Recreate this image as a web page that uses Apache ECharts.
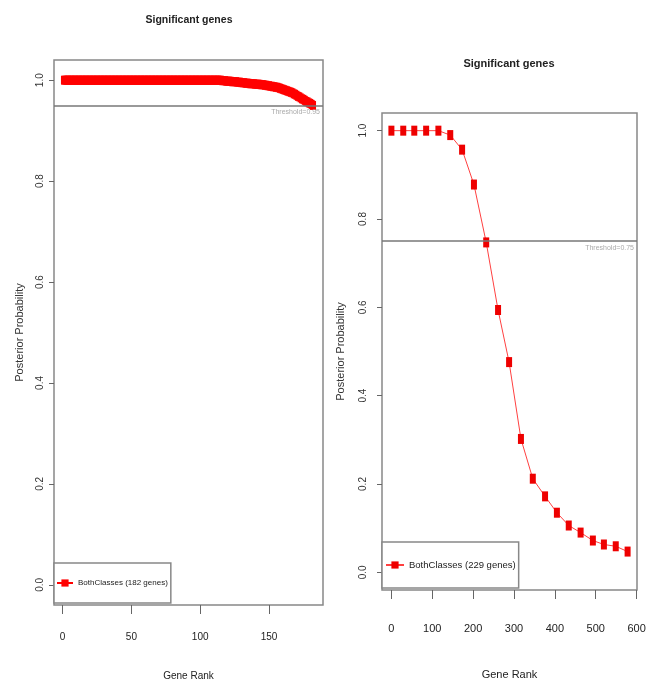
<!DOCTYPE html>
<html>
<head>
<meta charset="utf-8">
<script src="https://cdn.jsdelivr.net/npm/echarts@6/dist/echarts.min.js"></script>
<style>
html, body { margin: 0; padding: 0; background: #fff; }
#chart { width: 650px; height: 688px; }
</style>
</head>
<body>
<div id="chart"></div>
<script>
// left panel: 182 genes, posterior probability by rank
var leftProb = [
    1, 1, 1, 1, 1, 1, 1, 1, 1, 1, 1, 1, 1, 1, 1, 1, 1, 1, 1, 1,
    1, 1, 1, 1, 1, 1, 1, 1, 1, 1, 1, 1, 1, 1, 1, 1, 1, 1, 1, 1,
    1, 1, 1, 1, 1, 1, 1, 1, 1, 1, 1, 1, 1, 1, 1, 1, 1, 1, 1, 1,
    1, 1, 1, 1, 1, 1, 1, 1, 1, 1, 1, 1, 1, 1, 1, 1, 1, 1, 1, 1,
    1, 1, 1, 1, 1, 1, 1, 1, 1, 1, 1, 1, 1, 1, 1, 1, 1, 1, 1, 1,
    1, 1, 1, 1, 1, 1, 1, 1, 1, 1, 1, 1, 1, 1, 1,
    0.999, 0.999, 0.999, 0.998, 0.998, 0.998, 0.998, 0.997, 0.997, 0.997,
    0.997, 0.996, 0.996, 0.996, 0.995, 0.995, 0.995, 0.994, 0.994, 0.994,
    0.993, 0.993, 0.993, 0.993, 0.992, 0.992, 0.992, 0.992, 0.991, 0.991,
    0.991, 0.990, 0.990, 0.989, 0.989, 0.988, 0.988, 0.987, 0.987, 0.986,
    0.986, 0.985, 0.984, 0.983, 0.982, 0.981, 0.980, 0.979, 0.978, 0.977,
    0.976, 0.975, 0.973, 0.972, 0.970, 0.968, 0.967, 0.965, 0.963, 0.962,
    0.960, 0.958, 0.957, 0.955, 0.954, 0.952, 0.950
];
// right panel: sampled points
var rightRank = [0, 29, 56, 85, 115, 144, 173, 202, 232, 261, 288, 317, 346, 376, 405, 434, 463, 493, 520, 549, 578];
var rightProb = [1.0, 1.0, 1.0, 1.0, 1.0, 0.99, 0.957, 0.878, 0.747, 0.594, 0.476, 0.302, 0.212, 0.172, 0.135, 0.106, 0.09, 0.072, 0.063, 0.059, 0.047];

var leftTicks = [0, 50, 100, 150];
var rightTicks = [0, 100, 200, 300, 400, 500, 600];
var yTicks = [0, 0.2, 0.4, 0.6, 0.8, 1.0];
var leftThreshold = 0.95;
var rightThreshold = 0.75;
var leftName = 'BothClasses (182 genes)';
var rightName = 'BothClasses (229 genes)';

var font = "'Liberation Sans', Arial, sans-serif";

var leftData = leftProb.map(function (v, i) { return [i + 1, v]; });
var rightData = rightRank.map(function (r, i) { return [r, rightProb[i]]; });

function xAxisOf(gi, min, max, ticks, margin, nameGap, fs) {
    return {
        gridIndex: gi, type: 'value', min: min, max: max,
        name: 'Gene Rank', nameLocation: 'middle', nameGap: nameGap,
        nameTextStyle: {fontFamily: font, fontSize: fs, color: '#222'},
        axisLine: {show: false, onZero: false},
        axisTick: {show: true, length: 9, customValues: ticks, lineStyle: {color: '#666', width: 1}},
        axisLabel: {customValues: ticks, margin: margin, fontFamily: font, fontSize: fs, color: '#222'},
        splitLine: {show: false}
    };
}

function yAxisOf(gi, margin, nameGap) {
    return {
        gridIndex: gi, type: 'value', min: -0.04, max: 1.04,
        name: 'Posterior Probability', nameLocation: 'middle', nameGap: nameGap,
        nameTextStyle: {fontFamily: font, fontSize: 11, color: '#333'},
        axisLine: {show: false, onZero: false},
        axisTick: {show: true, length: 5, customValues: yTicks, lineStyle: {color: '#666', width: 1}},
        axisLabel: {
            customValues: yTicks, rotate: 90, margin: margin,
            fontFamily: font, fontSize: 10, color: '#333',
            formatter: function (v) { return v.toFixed(1); }
        },
        splitLine: {show: false}
    };
}

function threshold(val) {
    return {
        silent: true, symbol: 'none', animation: false,
        lineStyle: {color: '#777', width: 1.5, type: 'solid'},
        label: {
            position: 'insideEndBottom', distance: 3,
            formatter: 'Threshold=' + val,
            color: '#aaa', fontSize: 7, fontFamily: font
        },
        data: [{yAxis: val}]
    };
}

function legendOf(name, left, top, padding, iw, fs) {
    return {
        data: [name], left: left, top: top, padding: padding,
        itemWidth: iw, itemHeight: 9, itemGap: 0,
        backgroundColor: '#fff', borderColor: '#888', borderWidth: 1.5, borderRadius: 0,
        selectedMode: false,
        textStyle: {fontFamily: font, fontSize: fs, color: '#222'}
    };
}

var option = {
    animation: false,
    title: [
        {text: 'Significant genes', left: 189, top: 15, textAlign: 'center', padding: 0,
         textStyle: {fontFamily: font, fontSize: 10.5, fontWeight: 'bold', color: '#222'}},
        {text: 'Significant genes', left: 509, top: 58, textAlign: 'center', padding: 0,
         textStyle: {fontFamily: font, fontSize: 11, fontWeight: 'bold', color: '#222'}}
    ],
    grid: [
        {left: 54, top: 60, width: 269, height: 545, show: true, borderColor: '#888', borderWidth: 1.5},
        {left: 382, top: 113, width: 255, height: 477, show: true, borderColor: '#888', borderWidth: 1.5}
    ],
    xAxis: [
        xAxisOf(0, -6.24, 189.24, leftTicks, 27, 66, 10),
        xAxisOf(1, -23, 601, rightTicks, 33, 79, 11)
    ],
    yAxis: [
        yAxisOf(0, 9, 29),
        yAxisOf(1, 14, 36)
    ],
    legend: [
        legendOf(leftName, 54, 563, [16, 3, 16, 2], 16, 8),
        legendOf(rightName, 382, 542, [18, 3, 18, 3], 18, 9.5)
    ],
    series: [
        {
            name: leftName, type: 'line', xAxisIndex: 0, yAxisIndex: 0,
            data: leftData, symbol: 'rect', symbolSize: [6, 9],
            itemStyle: {color: '#ff0000'},
            lineStyle: {color: '#ff0000', width: 2},
            markLine: threshold(leftThreshold)
        },
        {
            name: rightName, type: 'line', xAxisIndex: 1, yAxisIndex: 1,
            data: rightData, symbol: 'rect', symbolSize: [6, 10],
            itemStyle: {color: '#ee0000'},
            lineStyle: {color: '#ff4040', width: 1},
            markLine: threshold(rightThreshold)
        }
    ]
};

var chart = echarts.init(document.getElementById('chart'));
chart.setOption(option);
</script>
</body>
</html>
